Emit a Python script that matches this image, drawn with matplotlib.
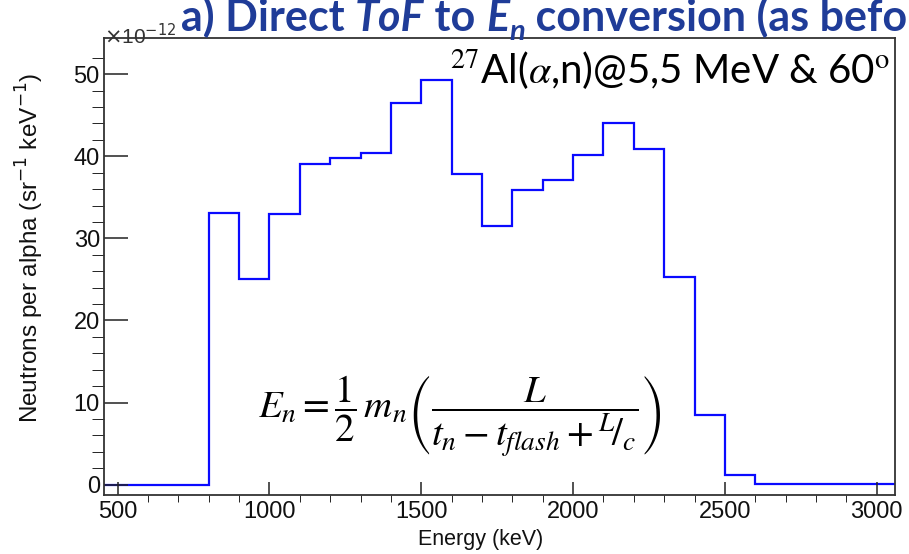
import matplotlib
matplotlib.use('Agg')
import matplotlib.pyplot as plt
import numpy as np

plt.rcParams['font.family'] = ['Liberation Sans', 'DejaVu Sans']

# 100 keV bins, neutron yield in units of 1e-12 per alpha per sr per keV
bin_edges = [455, 500, 600, 700, 800, 900, 1000, 1100, 1200, 1300, 1400, 1500,
             1600, 1700, 1800, 1900, 2000, 2100, 2200, 2300, 2400, 2500,
             2600, 2700, 2800, 2900, 3000, 3060]
yields = [0.0, 0.0, 0.0, 0.0, 33.1, 25.05, 33.0, 39.1, 39.8, 40.4, 46.45, 49.25,
          37.8, 31.55, 35.9, 37.1, 40.2, 44.1, 40.85, 25.3, 8.5, 1.2,
          0.1, 0.1, 0.1, 0.1, 0.1]

W, H = 909, 554
fig = plt.figure(figsize=(W / 100, H / 100), dpi=100)
ax = fig.add_axes([104 / W, (H - 495) / H, (895 - 104) / W, (495 - 38) / H])

ax.stairs(yields, bin_edges, color='#0a0aff', lw=1.6)

ax.set_xlim(455, 3060)
ax.set_ylim(-1.25, 54.4)
ax.set_xticks([500, 1000, 1500, 2000, 2500, 3000])
ax.set_xticks(np.arange(600, 3060, 100), minor=True)
ax.set_yticks([0, 10, 20, 30, 40, 50])
ax.set_yticks(np.arange(2, 54, 2), minor=True)
ax.tick_params(axis='both', direction='in', colors='#222222', labelcolor='#111111',
               labelsize=17, width=1.1)
ax.tick_params(axis='x', which='major', length=9.5, pad=4)
ax.tick_params(axis='x', which='minor', length=5)
ax.tick_params(axis='y', which='major', length=17, pad=3)
ax.tick_params(axis='y', which='minor', length=8.5)
for s in ax.spines.values():
    s.set_color('#333333')
    s.set_linewidth(1.3)

fig.text(30 / W, 1 - 248 / H, 'Neutrons per alpha (sr$^{-1}$ keV$^{-1}$)',
         rotation=90, ha='center', va='center', fontsize=17.5, color='#111111')
fig.text(481 / W, 1 - 540 / H, 'Energy (keV)', ha='center', va='center',
         fontsize=15.5, color='#111111')
fig.text(104 / W, 1 - 44 / H, r'$\times$10$^{-12}$', ha='left', va='baseline',
         fontsize=15, color='#333333')

# reaction label
fig.text(890 / W, 1 - 83 / H, r'$^{27}$Al($\alpha$,n)@5,5 MeV & 60$^{\rm o}$',
         ha='right', va='baseline', fontsize=29, color='black',
         family=['Lato', 'DejaVu Sans'], math_fontfamily='stix')

# time-of-flight conversion formula
fig.text(460 / W, 1 - 416 / H,
         r'$E_n = \dfrac{1}{2}\, m_n \left(\dfrac{L}{t_n - t_{flash} + {}^{L}\!/_{c}}\right)$',
         ha='center', va='center', fontsize=28, math_fontfamily='stix')

# slide heading, runs past the right edge of the image
heading = [('a) Direct ', 'normal'), ('ToF', 'italic'), (' to ', 'normal'),
           ('E', 'italic'), ('n', 'sub'), (' conversion (as before)', 'normal')]
renderer = fig.canvas.get_renderer()
x = 181
base = 31
for txt, style in heading:
    size = 31 if style != 'sub' else 21
    y = base + (9 if style == 'sub' else 0)
    t = fig.text(x / W, 1 - y / H, txt, ha='left', va='baseline', fontsize=size,
                 fontweight='bold', fontstyle='italic' if style != 'normal' else 'normal',
                 family=['Lato', 'DejaVu Sans'], color='#1f3c98')
    x += t.get_window_extent(renderer).width

fig.savefig('out.png', dpi=100)
